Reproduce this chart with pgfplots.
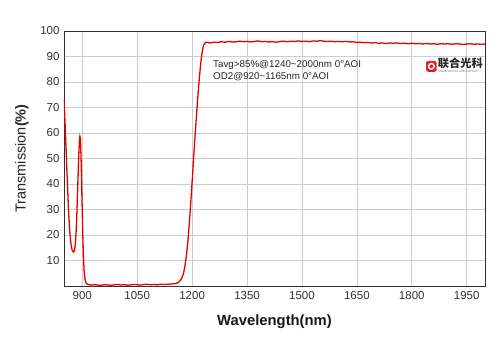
\documentclass[border=0pt]{standalone}
\usepackage{pgfplots}
\pgfplotsset{compat=1.18}
\usepackage{fontspec}
\setmainfont{Liberation Sans}
\newfontfamily\cjk{Noto Sans CJK SC}
\definecolor{curve}{RGB}{228,0,0}
\definecolor{gridc}{RGB}{205,205,205}
\definecolor{axc}{RGB}{50,50,50}
\definecolor{logored}{RGB}{225,30,40}
\begin{document}
\begin{tikzpicture}
\useasboundingbox[fill=white] (-64bp,-67bp) rectangle (436bp,286bp);
\begin{axis}[
  at={(0,0)}, anchor=south west,
  scale only axis, width=421bp, height=255bp,
  xmin=850, xmax=2000, ymin=0, ymax=100,
  xtick={900,1050,...,1950},
  ytick={10,20,...,100},
  grid=major,
  major grid style={gridc, line width=0.7pt},
  axis line style={axc, line width=0.9pt},
  major tick length=0pt,
  /pgf/number format/assume math mode=true,
  /pgf/number format/1000 sep={},
  tick label style={font=\fontsize{11.5bp}{13bp}\selectfont, text=black!80},
  xticklabel style={yshift=-2bp},
  yticklabel style={xshift=-1bp},
  every axis y label/.style={at={(axis description cs:0,0.5)}, xshift=-42bp, rotate=90, anchor=center, font=\fontsize{14.5bp}{16bp}\selectfont, text=black!85},
  every axis x label/.style={at={(axis description cs:0.5,0)}, yshift=-36bp, anchor=center, font=\fontsize{14.8bp}{16bp}\selectfont\bfseries, text=black!90},
  ylabel={Transmission\textbf{(\%)}},
  xlabel={Wavelength(nm)},
  clip=true,
]
\addplot[curve, line width=1.3pt, smooth, tension=0.4] coordinates {
(850,73.5)(852,67)(854,60)(856,52.5)(858,45)(860,38)(862,31)(864,25.5)(866,21)(868,17.8)
(870,15.6)(872,14.3)(874,13.6)(876,13.3)(878,13.6)(880,15.2)(882,18.5)(884,24)(886,32)
(888,41)(890,50)(892,56.5)(893.5,58.7)(895,57)(897,48)(899,35)(901,22)(903,12)(905,6)
(907,3)(909,1.6)(911,1)(914,0.7)(918,0.5)(925,0.4)(935,0.5)(945,0.3)(955,0.4)(965,0.5)
(975,0.3)(985,0.4)(995,0.6)(1005,0.4)(1015,0.5)(1025,0.3)(1035,0.5)(1045,0.6)(1055,0.4)
(1065,0.5)(1075,0.7)(1085,0.5)(1095,0.6)(1105,0.5)(1115,0.7)(1125,0.6)(1135,0.7)(1145,0.8)
(1152,0.9)(1158,1.1)(1163,1.5)(1168,2.2)(1172,3.2)(1176,4.8)(1180,7.5)(1184,11.5)(1188,17)
(1192,24)(1196,32)(1200,41)(1204,50)(1208,59)(1212,67)(1216,75)(1220,82)(1224,88)
(1228,92.3)(1232,94.6)(1236,95.4)(1240,95.6)(1250,95.3)(1260,95.6)(1270,95.5)(1280,95.8)
(1290,95.6)(1300,95.9)(1310,95.7)(1320,95.8)(1330,96.0)(1340,95.8)(1350,95.9)(1360,95.7)
(1370,95.9)(1380,96.1)(1390,95.8)(1400,95.9)(1410,95.7)(1420,95.8)(1430,95.6)(1440,95.9)
(1450,96.0)(1460,95.8)(1470,96.0)(1480,95.9)(1490,96.1)(1500,95.9)(1510,96.0)(1520,95.8)
(1530,96.1)(1540,96.0)(1550,96.2)(1560,96.0)(1570,95.9)(1580,96.0)(1590,95.8)(1600,95.9)
(1610,95.8)(1620,95.9)(1630,95.7)(1640,95.8)(1650,95.5)(1660,95.6)(1670,95.4)(1680,95.5)
(1690,95.3)(1700,95.4)(1710,95.2)(1720,95.3)(1730,95.1)(1740,95.3)(1750,95.2)(1760,95.3)
(1770,95.1)(1780,95.2)(1790,95.0)(1800,95.2)(1810,95.0)(1820,95.1)(1830,94.9)(1840,95.1)
(1850,94.9)(1860,95.0)(1870,94.8)(1880,95.0)(1890,94.9)(1900,95.0)(1910,94.8)(1920,95.0)
(1930,94.9)(1940,94.7)(1950,94.9)(1960,95.0)(1970,94.8)(1980,94.9)(1990,94.8)(2000,94.9)
};
\node[anchor=base west, inner sep=0pt, font=\fontsize{9.8bp}{11bp}\selectfont, text=black!85] at (axis cs:1257,85.6) {Tavg>85\%@1240\textasciitilde2000nm 0°AOI};
\node[anchor=base west, inner sep=0pt, font=\fontsize{9.8bp}{11bp}\selectfont, text=black!85] at (axis cs:1257,80.9) {OD2@920\textasciitilde1165nm 0°AOI};
% logo
\fill[logored, rounded corners=1.8bp] (axis cs:1839,84.0) rectangle (axis cs:1868,88.3);
\draw[white, line width=1.4bp] (axis cs:1853.5,86.15) circle[radius=2.8bp];
\node[anchor=west, inner sep=0pt, font=\cjk\bfseries\fontsize{11.2bp}{12bp}\selectfont, text=black!85] at (axis cs:1871,87.3) {联合光科};
\node[anchor=west, inner sep=0pt, font=\fontsize{2.8bp}{3bp}\selectfont, text=black!55] at (axis cs:1872,84.0) {UNION OPTICS  JOINTOPTICS};
\end{axis}
\end{tikzpicture}
\end{document}
